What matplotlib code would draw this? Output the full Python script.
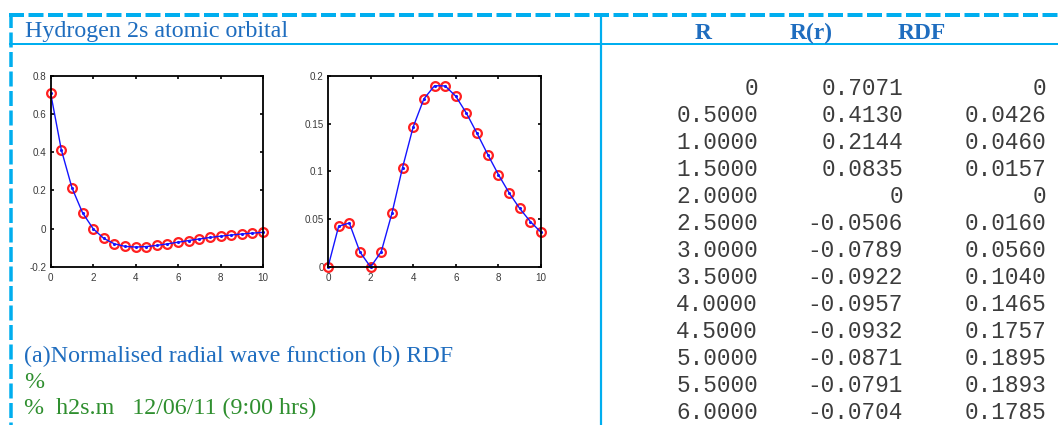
import matplotlib
matplotlib.use("Agg")
import matplotlib.pyplot as plt
from matplotlib.lines import Line2D

# Hydrogen 2s orbital sampled every 0.5 bohr
r = [0.0, 0.5, 1.0, 1.5, 2.0, 2.5, 3.0, 3.5, 4.0, 4.5, 5.0,
     5.5, 6.0, 6.5, 7.0, 7.5, 8.0, 8.5, 9.0, 9.5, 10.0]
R_r = [0.7071, 0.4130, 0.2144, 0.0835, 0.0, -0.0506, -0.0789, -0.0922,
       -0.0957, -0.0932, -0.0871, -0.0791, -0.0704, -0.0617, -0.0534,
       -0.0457, -0.0389, -0.0328, -0.0275, -0.0229, -0.0191]
RDF = [0.0, 0.0426, 0.0460, 0.0157, 0.0, 0.0160, 0.0560, 0.1040,
       0.1465, 0.1757, 0.1895, 0.1893, 0.1785, 0.1607, 0.1396, 0.1176,
       0.0966, 0.0776, 0.0612, 0.0475, 0.0363]

title_text = "Hydrogen 2s atomic orbital"
col_heads = ["R", "R(r)", "RDF"]
caption = "(a)Normalised radial wave function (b) RDF"
comment_lines = ["%", "%  h2s.m   12/06/11 (9:00 hrs)"]
shown_rows = 13

W, H = 1058, 425
DPI = 100
fig = plt.figure(figsize=(W / DPI, H / DPI), dpi=DPI)
fig.patch.set_facecolor("white")

CYAN = "#00AEEF"
BLUE = "#1F6DBF"
GREEN = "#2F8F2F"
INK = "#3c3c3c"

def fx(px):
    return px / W

def fy(py):
    return 1 - py / H

def px2pt(px):
    return px * 72.0 / DPI

plt.rcParams["lines.scale_dashes"] = False

# frame: dashed outer border, header rule and column divider
dash = (0, (px2pt(15), px2pt(4.5)))
fig.add_artist(Line2D([fx(9), fx(W)], [fy(15), fy(15)], transform=fig.transFigure,
                      color=CYAN, lw=px2pt(4), linestyle=dash))
fig.add_artist(Line2D([fx(10.5), fx(10.5)], [fy(13), fy(H)], transform=fig.transFigure,
                      color=CYAN, lw=px2pt(3.5), linestyle=dash))
fig.add_artist(Line2D([fx(10), fx(W)], [fy(43.5), fy(43.5)], transform=fig.transFigure,
                      color=CYAN, lw=px2pt(2)))
fig.add_artist(Line2D([fx(601), fx(601)], [fy(15), fy(H)], transform=fig.transFigure,
                      color=CYAN, lw=px2pt(2.2)))

serif = "Liberation Serif"
mono = "Liberation Mono"
fs = px2pt(24)

fig.text(fx(25), fy(37), title_text, color=BLUE, fontsize=fs, family=serif,
         ha="left", va="baseline")
for x, head in zip([703, 811, 922], col_heads):
    fig.text(fx(x), fy(39), head, color=BLUE, fontsize=px2pt(23.5), family=serif,
             weight="bold", ha="center", va="baseline")

fig.text(fx(24), fy(362), caption, color=BLUE, fontsize=fs, family=serif,
         ha="left", va="baseline")
for i, line in enumerate(comment_lines):
    fig.text(fx(24), fy(388 + 26 * i), line, color=GREEN, fontsize=fs, family=serif,
             ha="left", va="baseline")

# numeric listing, MATLAB style
def fmt(v):
    return "0" if v == 0 else f"{v:.4f}"

for k in range(shown_rows):
    yb = 95 + 27.0 * k
    for xr, val in zip([758, 903, 1046], [r[k], R_r[k], RDF[k]]):
        fig.text(fx(xr), fy(yb), fmt(val), color=INK, fontsize=px2pt(22.8),
                 family=mono, ha="right", va="baseline")

# the two small plots
def style_axes(ax):
    for s in ax.spines.values():
        s.set_linewidth(1.3)
        s.set_color("black")
    ax.tick_params(direction="in", top=True, right=True, length=2.5, width=1.2,
                   labelsize=7.1, colors="black")
    ax.tick_params(axis="x", pad=4.5)
    ax.tick_params(axis="y", pad=3)
    for lab in ax.get_xticklabels() + ax.get_yticklabels():
        lab.set_family("Liberation Sans")
        lab.set_color("#3a3a3a")

def draw(ax, y):
    ax.plot(r, y, linestyle="none", marker="o", markersize=6.3, markerfacecolor="none",
            markeredgecolor="#ff2020", markeredgewidth=1.6)
    ax.plot(r, y, color="#1414ff", lw=1.0, marker=".", markersize=2.5)

ax1 = fig.add_axes([fx(50.7), fy(267), fx(263 - 50.7), (267 - 75.7) / H])
draw(ax1, R_r)
ax1.set_xlim(0, 10)
ax1.set_ylim(-0.2, 0.8)
ax1.set_xticks([0, 2, 4, 6, 8, 10])
ax1.set_yticks([-0.2, 0, 0.2, 0.4, 0.6, 0.8])
ax1.set_yticklabels(["-0.2", "0", "0.2", "0.4", "0.6", "0.8"])
style_axes(ax1)

ax2 = fig.add_axes([fx(328), fy(267), fx(541 - 328), (267 - 75.7) / H])
draw(ax2, RDF)
ax2.set_xlim(0, 10)
ax2.set_ylim(0, 0.2)
ax2.set_xticks([0, 2, 4, 6, 8, 10])
ax2.set_yticks([0, 0.05, 0.1, 0.15, 0.2])
ax2.set_yticklabels(["0", "0.05", "0.1", "0.15", "0.2"])
style_axes(ax2)

for ax in (ax1, ax2):
    for ln in ax.lines:
        ln.set_clip_on(False)

fig.savefig("out.png", dpi=DPI)
